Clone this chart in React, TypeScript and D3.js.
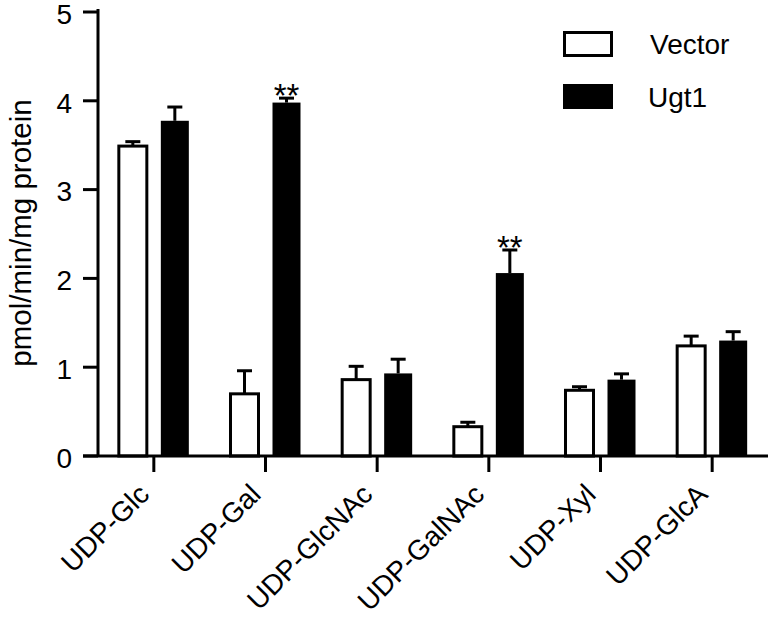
import React from "react";
import * as d3 from "d3";

const categories = ["UDP-Glc", "UDP-Gal", "UDP-GlcNAc", "UDP-GalNAc", "UDP-Xyl", "UDP-GlcA"];
const seriesNames = ["Vector", "Ugt1"];
const vectorValues = [3.49, 0.7, 0.86, 0.33, 0.74, 1.24];
const vectorErrors = [0.05, 0.26, 0.15, 0.05, 0.04, 0.11];
const ugt1Values = [3.775, 3.98, 0.93, 2.06, 0.86, 1.3];
const ugt1Errors = [0.155, 0.05, 0.16, 0.26, 0.065, 0.1];
const significance = ["", "**", "", "**", "", ""];
const yTicks = [0, 1, 2, 3, 4, 5];
const yLabel = "pmol/min/mg protein";

const W = 770;
const H = 618;
const FONT = "'Liberation Sans', Arial, Helvetica, sans-serif";

export default function App() {
  const x = d3.scaleBand<string>().domain(categories).range([98, 768]);
  const xSub = d3.scaleBand<string>().domain(seriesNames).range([-35, 35]).paddingInner(1 / 3);
  const y = d3.scaleLinear().domain([0, 5]).range([456, 12]);
  const bw = xSub.bandwidth();
  const capW = 15;

  const series = [
    { name: "Vector", values: vectorValues, errors: vectorErrors, fill: "#fff", stroke: "#000", sw: 3 },
    { name: "Ugt1", values: ugt1Values, errors: ugt1Errors, fill: "#000", stroke: "none", sw: 0 },
  ];

  return (
    <svg width={W} height={H} style={{ position: "absolute", left: 0, top: 0, background: "#fff" }} fontFamily={FONT}>
      <rect x={0} y={0} width={W} height={H} fill="#fff" />
      {/* bars */}
      {categories.map((c, i) => {
        const cx = (x(c) as number) + x.bandwidth() / 2;
        return (
          <g key={c}>
            {series.map((s) => {
              const bx = cx + (xSub(s.name) as number);
              const v = s.values[i];
              const e = s.errors[i];
              const mid = bx + bw / 2;
              return (
                <g key={s.name}>
                  <line x1={mid} x2={mid} y1={y(v)} y2={y(v + e)} stroke="#000" strokeWidth={3} />
                  <line x1={mid - capW / 2} x2={mid + capW / 2} y1={y(v + e)} y2={y(v + e)} stroke="#000" strokeWidth={3} />
                  <rect x={bx} y={y(v)} width={bw} height={y(0) - y(v)} fill={s.fill} stroke={s.stroke} strokeWidth={s.sw} />
                </g>
              );
            })}
            {significance[i] && (
              <text
                x={cx + (xSub("Ugt1") as number) + bw / 2}
                y={y(ugt1Values[i] + ugt1Errors[i]) + 9}
                textAnchor="middle"
                fontSize={33}
                fill="#000"
              >
                {significance[i]}
              </text>
            )}
          </g>
        );
      })}
      {/* y axis */}
      <line x1={98} x2={98} y1={y(5) - 3} y2={y(0)} stroke="#000" strokeWidth={3} />
      {yTicks.map((t) => (
        <g key={t}>
          <line x1={83} x2={98} y1={y(t)} y2={y(t)} stroke="#000" strokeWidth={3} />
          <text x={72} y={y(t)} dy="0.42em" textAnchor="end" fontSize={28} fill="#000">
            {t}
          </text>
        </g>
      ))}
      {/* x axis */}
      <line x1={83} x2={768} y1={y(0)} y2={y(0)} stroke="#000" strokeWidth={3} />
      {categories.map((c) => {
        const cx = (x(c) as number) + x.bandwidth() / 2;
        return (
          <g key={c}>
            <line x1={cx} x2={cx} y1={y(0)} y2={y(0) + 16} stroke="#000" strokeWidth={3} />
            <text transform={`translate(${cx - 3},${496}) rotate(-45)`} textAnchor="end" fontSize={28} fill="#000">
              {c}
            </text>
          </g>
        );
      })}
      {/* y label */}
      <text transform={`translate(31,233) rotate(-90)`} textAnchor="middle" fontSize={29.5} fill="#000">
        {yLabel}
      </text>
      {/* legend */}
      <rect x={564.5} y={32.5} width={47} height={23} fill="#fff" stroke="#000" strokeWidth={3} />
      <text x={650} y={54} fontSize={28} fill="#000">Vector</text>
      <rect x={563} y={84} width={50} height={25} fill="#000" />
      <text x={648} y={107} fontSize={28} fill="#000">Ugt1</text>
    </svg>
  );
}
